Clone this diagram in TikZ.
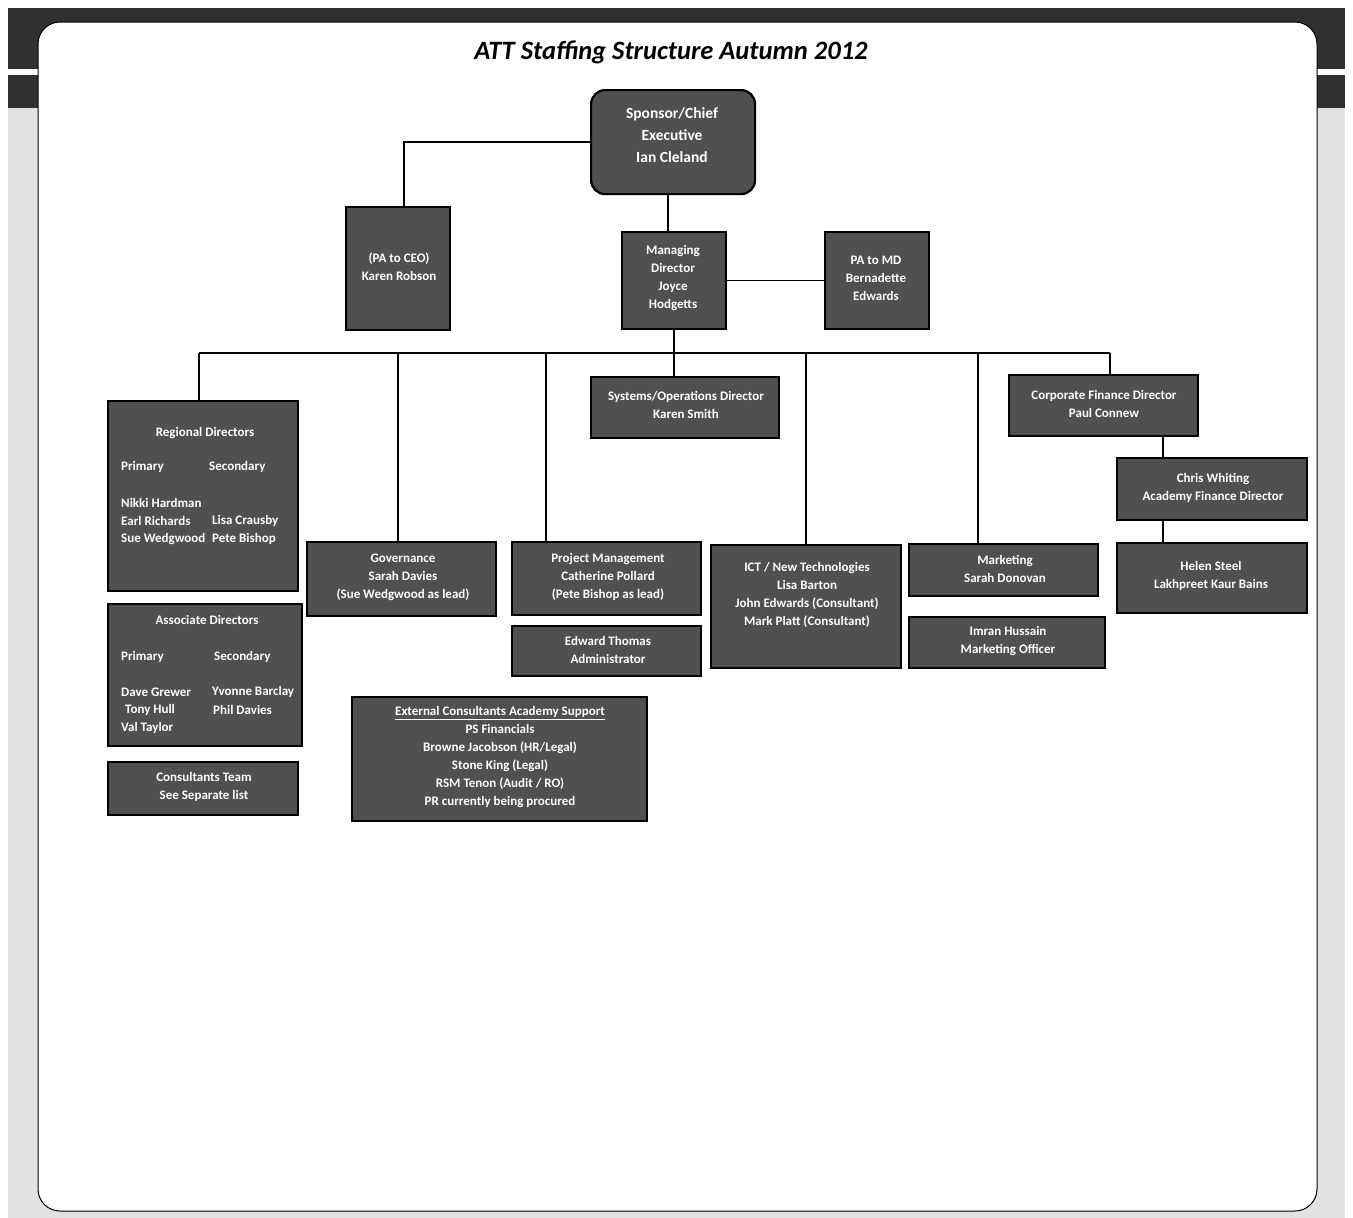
\documentclass[tikz,border=0pt]{standalone}
\usepackage{fontspec}
\setmainfont{Carlito}
\definecolor{boxgray}{HTML}{505050}
\definecolor{bandgray}{HTML}{303030}
\definecolor{sidegray}{HTML}{E2E2E2}
\newcommand{\bxfont}{\fontsize{13}{18}\selectfont\bfseries}
\begin{document}
\begin{tikzpicture}[x=1pt,y=-1pt,
  box/.style={draw=black, line width=1.8pt, fill=boxgray, inner sep=0pt, anchor=north west},
  txt/.style={text=white, font=\bxfont, align=center, inner sep=0pt},
  ltxt/.style={text=white, font=\bxfont, inner sep=0pt, anchor=west},
  conn/.style={draw=black, line width=1.3pt}]
\useasboundingbox (0,0) rectangle (1353,1218);
% background frame
\fill[white] (0,0) rectangle (1353,1218);
\fill[sidegray] (8,108) rectangle (1345,1218);
\fill[bandgray] (8,8) rectangle (1345,108);
\fill[white] (8,69) rectangle (38,75);
\fill[white] (1316,69) rectangle (1345,75);
\draw[fill=white, rounded corners=22pt, line width=1pt] (38,22) rectangle (1317,1211);
% title
\node[font=\fontsize{26.5}{30}\selectfont\bfseries\itshape, inner sep=0pt] (title) at (671,52) {ATT Staffing Structure Autumn 2012};
% boxes
\node[box, rounded corners=14pt, line width=2.2pt, minimum width=164pt, minimum height=104pt] (ceo) at (590,89) {};
\node[txt, font=\fontsize{15.5}{22}\selectfont\bfseries] (ceo-t) at (672,135) {Sponsor/Chief\\Executive\\Ian Cleland};
\node[box, minimum width=104pt, minimum height=123pt] (pa1) at (345,206) {};
\node[txt] (pa1-t) at (399,266.5) {(PA to CEO)\\Karen Robson};
\node[box, minimum width=104pt, minimum height=97pt] (md) at (621,231) {};
\node[txt] (md-t) at (673,278.5) {Managing\\Director\\Joyce\\Hodgetts};
\node[box, minimum width=104pt, minimum height=97pt] (pamd) at (824,231) {};
\node[txt] (pamd-t) at (876,278) {PA to MD\\Bernadette\\Edwards};
\node[box, minimum width=188pt, minimum height=61pt] (sys) at (590,376) {};
\node[txt] (sys-t) at (686,405) {Systems/Operations Director\\Karen Smith};
\node[box, minimum width=189pt, minimum height=61pt] (cf) at (1008,374) {};
\node[txt] (cf-t) at (1104,404) {Corporate Finance Director\\Paul Connew};
\node[box, minimum width=190pt, minimum height=62pt] (chris) at (1116,457) {};
\node[txt] (chris-t) at (1213,487.5) {Chris Whiting\\Academy Finance Director};
\node[box, minimum width=190pt, minimum height=70pt] (helen) at (1116,542) {};
\node[txt] (helen-t) at (1211,576) {Helen Steel\\Lakhpreet Kaur Bains};
% regional directors
\node[box, minimum width=190pt, minimum height=190pt] (reg) at (107,400) {};
\node[txt] (reg-t) at (205,433) {Regional Directors};
\node[ltxt] (reg-p) at (121,467) {Primary};
\node[ltxt] (reg-s) at (209,467) {Secondary};
\node[ltxt] (reg-1) at (121,503) {Nikki Hardman};
\node[ltxt] (reg-2) at (121,521) {Earl Richards};
\node[ltxt] (reg-3) at (212,521) {Lisa Crausby};
\node[ltxt] (reg-4) at (121,539) {Sue Wedgwood};
\node[ltxt] (reg-5) at (212,539) {Pete Bishop};
% associate directors
\node[box, minimum width=194pt, minimum height=142pt] (assoc) at (107,603) {};
\node[txt] (assoc-t) at (207,620) {Associate Directors};
\node[ltxt] (assoc-p) at (121,657) {Primary};
\node[ltxt] (assoc-s) at (214,657) {Secondary};
\node[ltxt] (assoc-1) at (121,692) {Dave Grewer};
\node[ltxt] (assoc-2) at (212,692) {Yvonne Barclay};
\node[ltxt] (assoc-3) at (125,710) {Tony Hull};
\node[ltxt] (assoc-4) at (213,710) {Phil Davies};
\node[ltxt] (assoc-5) at (121,728) {Val Taylor};
% consultants
\node[box, minimum width=190pt, minimum height=53pt] (cons) at (107,761) {};
\node[txt] (cons-t) at (204,787) {Consultants Team\\See Separate list};
\node[box, minimum width=189pt, minimum height=74pt] (gov) at (306,541) {};
\node[txt] (gov-t) at (403,577.5) {Governance\\Sarah Davies\\(Sue Wedgwood as lead)};
\node[box, minimum width=189pt, minimum height=73pt] (pm) at (511,541) {};
\node[txt] (pm-t) at (608,577) {Project Management\\Catherine Pollard\\(Pete Bishop as lead)};
\node[box, minimum width=189pt, minimum height=50pt] (ed) at (511,625) {};
\node[txt] (ed-t) at (608,650) {Edward Thomas\\Administrator};
\node[box, minimum width=190pt, minimum height=123pt] (ict) at (710,544) {};
\node[txt] (ict-t) at (807,595) {ICT / New Technologies\\Lisa Barton\\John Edwards (Consultant)\\Mark Platt (Consultant)};
\node[box, minimum width=189pt, minimum height=52pt] (mkt) at (908,543) {};
\node[txt] (mkt-t) at (1005,569) {Marketing\\Sarah Donovan};
\node[box, minimum width=196pt, minimum height=51pt] (imran) at (908,616) {};
\node[txt] (imran-t) at (1008,641) {Imran Hussain\\Marketing Officer};
\node[box, minimum width=295pt, minimum height=124pt] (ext) at (351,696) {};
\node[txt] (ext-t) at (500,757) {\underline{External Consultants Academy Support}\\PS Financials\\Browne Jacobson (HR/Legal)\\Stone King (Legal)\\RSM Tenon (Audit / RO)\\PR currently being procured};
% connectors
\coordinate (pcx) at (404,206);
\draw[conn] (ceo.west) -| (pcx);
\coordinate (cmx) at (668,193);
\draw[conn] (cmx) -- (cmx |- md.north);
\draw[conn] (md.east) -- (pamd.west);
\coordinate (bL) at (199,353);
\coordinate (bG) at (398,353);
\coordinate (bP) at (546,353);
\coordinate (bS) at (673,353);
\coordinate (bI) at (806,353);
\coordinate (bM) at (978,353);
\coordinate (bR) at (1110,353);
\draw[conn] (md.south) -- (md.south |- sys.north);
\draw[conn] (bL) -- (bR);
\draw[conn] (bL) -- (bL |- reg.north);
\draw[conn] (bG) -- (bG |- gov.north);
\draw[conn] (bP) -- (bP |- pm.north);
\draw[conn] (bI) -- (bI |- ict.north);
\draw[conn] (bM) -- (bM |- mkt.north);
\draw[conn] (bR) -- (bR |- cf.north);
\coordinate (fc) at (1163,435);
\draw[conn] (fc) -- (fc |- chris.north);
\coordinate (fh) at (1163,519);
\draw[conn] (fh) -- (fh |- helen.north);
\end{tikzpicture}
\end{document}
